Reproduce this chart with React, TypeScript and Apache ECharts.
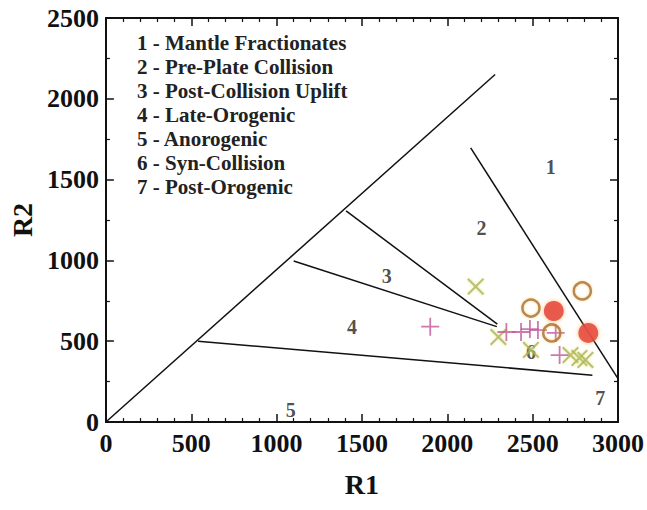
import React, { useEffect, useRef } from "react";
import * as echarts from "echarts";

const xTicks = [0, 500, 1000, 1500, 2000, 2500, 3000];
const yTicks = [0, 500, 1000, 1500, 2000, 2500];

const legendLines = [
  "1 - Mantle Fractionates",
  "2 - Pre-Plate Collision",
  "3 - Post-Collision Uplift",
  "4 - Late-Orogenic",
  "5 - Anorogenic",
  "6 - Syn-Collision",
  "7 - Post-Orogenic",
];

const diagLine = [[0, 0], [2280, 2150]];
const line23 = [[1407, 1306], [2293, 606]];
const line34 = [[1100, 996], [2290, 590]];
const line45 = [[540, 500], [2850, 290]];
const line12 = [[2137, 1696], [3000, 268]];

const regionLabels = [
  { name: "1", value: [2606, 1578] },
  { name: "2", value: [2201, 1200] },
  { name: "3", value: [1645, 903] },
  { name: "4", value: [1442, 588] },
  { name: "5", value: [1083, 74] },
  { name: "6", value: [2490, 433] },
  { name: "7", value: [2896, 149] },
];

const openCircles = [[2490, 705], [2791, 811], [2612, 551]];
const filledCircles = [[2624, 687], [2826, 551]];
const crosses = [[2166, 838], [2299, 526], [2490, 446], [2722, 414], [2774, 396], [2809, 384]];
const pluses = [[1900, 590], [2346, 557], [2432, 557], [2484, 575], [2531, 569], [2635, 551], [2658, 414]];

const FONT = "'Liberation Serif', 'DejaVu Serif', serif";
const PLUS = "path://M9,0h2v20h-2zM0,9h20v2h-20z";

export default function App() {
  const ref = useRef<HTMLDivElement>(null);
  useEffect(() => {
    if (!ref.current) return;
    const chart = echarts.init(ref.current, null, { renderer: "svg" });
    const axisCommon = {
      min: 0,
      axisLine: { show: true, onZero: false, lineStyle: { color: "#111", width: 2 } },
      axisTick: { show: true, inside: true, length: 8, lineStyle: { color: "#111", width: 1.5 } },
      minorTick: { show: true, length: 4, lineStyle: { color: "#111", width: 1.2 } },
      splitLine: { show: false },
    };
    const lineSeries = (data: number[][]) => ({
      type: "line",
      data,
      symbol: "none",
      lineStyle: { color: "#111", width: 1.5 },
      silent: true,
      z: 2,
    });
    chart.setOption({
      animation: false,
      backgroundColor: "#fff",
      grid: { left: 103, right: 26, top: 18, bottom: 88 },
      xAxis: [
        {
          ...axisCommon,
          type: "value",
          max: 3000,
          interval: 500,
          minorTick: { ...axisCommon.minorTick, splitNumber: 5 },
          name: "R1",
          nameLocation: "middle",
          nameGap: 48,
          nameTextStyle: { fontFamily: FONT, fontWeight: "bold", fontSize: 28, color: "#111" },
          axisLabel: {
            fontFamily: FONT,
            fontWeight: "bold",
            fontSize: 26,
            color: "#111",
            margin: 8,
            formatter: (v: number) => (xTicks.includes(v) ? String(v) : ""),
          },
        },
        {
          ...axisCommon,
          type: "value",
          position: "top",
          max: 3000,
          interval: 500,
          minorTick: { ...axisCommon.minorTick, splitNumber: 5 },
          axisLabel: { show: false },
        },
      ],
      yAxis: [
        {
          ...axisCommon,
          type: "value",
          max: 2500,
          interval: 500,
          minorTick: { ...axisCommon.minorTick, splitNumber: 2 },
          name: "R2",
          nameLocation: "middle",
          nameGap: 60,
          nameRotate: 90,
          nameTextStyle: { fontFamily: FONT, fontWeight: "bold", fontSize: 28, color: "#111" },
          axisLabel: {
            fontFamily: FONT,
            fontWeight: "bold",
            fontSize: 26,
            color: "#111",
            margin: 7,
            formatter: (v: number) => (yTicks.includes(v) ? String(v) : ""),
          },
        },
        {
          ...axisCommon,
          type: "value",
          position: "right",
          max: 2500,
          interval: 500,
          minorTick: { ...axisCommon.minorTick, splitNumber: 2 },
          axisLabel: { show: false },
        },
      ],
      series: [
        lineSeries(diagLine),
        lineSeries(line23),
        lineSeries(line34),
        lineSeries(line45),
        lineSeries(line12),
        {
          type: "scatter",
          data: regionLabels,
          symbolSize: 1,
          itemStyle: { color: "rgba(0,0,0,0)" },
          label: {
            show: true,
            position: "inside",
            formatter: "{b}",
            fontFamily: FONT,
            fontWeight: "bold",
            fontSize: 20,
            color: "#222",
          },
          z: 3,
        },
        {
          type: "scatter",
          data: crosses,
          symbol: PLUS,
          symbolRotate: 45,
          symbolSize: 22,
          itemStyle: { color: "#a9b055", shadowColor: "rgba(230,230,120,0.8)", shadowBlur: 3 },
          z: 4,
        },
        {
          type: "scatter",
          data: pluses,
          symbol: PLUS,
          symbolSize: 18,
          itemStyle: { color: "#c0589a" },
          z: 5,
        },
        {
          type: "scatter",
          data: openCircles,
          symbol: "circle",
          symbolSize: 17,
          itemStyle: {
            color: "rgba(255,255,255,0)",
            borderColor: "#a8683a",
            borderWidth: 2.5,
            shadowColor: "rgba(240,200,80,0.8)",
            shadowBlur: 3,
          },
          z: 6,
        },
        {
          type: "scatter",
          data: filledCircles,
          symbol: "circle",
          symbolSize: 20,
          itemStyle: { color: "#e3283f", shadowColor: "rgba(250,170,60,0.9)", shadowBlur: 4 },
          z: 7,
        },
      ],
      graphic: legendLines.map((t, i) => ({
        type: "text",
        left: 137,
        top: 32 + i * 24,
        style: {
          text: t,
          fontFamily: FONT,
          fontWeight: "bold",
          fontSize: 21,
          fill: "#222",
        },
        z: 10,
      })),
    });
    return () => chart.dispose();
  }, []);
  return (
    <div
      ref={ref}
      style={{ position: "fixed", left: 0, top: 0, width: 647, height: 510, background: "#fff" }}
    />
  );
}
